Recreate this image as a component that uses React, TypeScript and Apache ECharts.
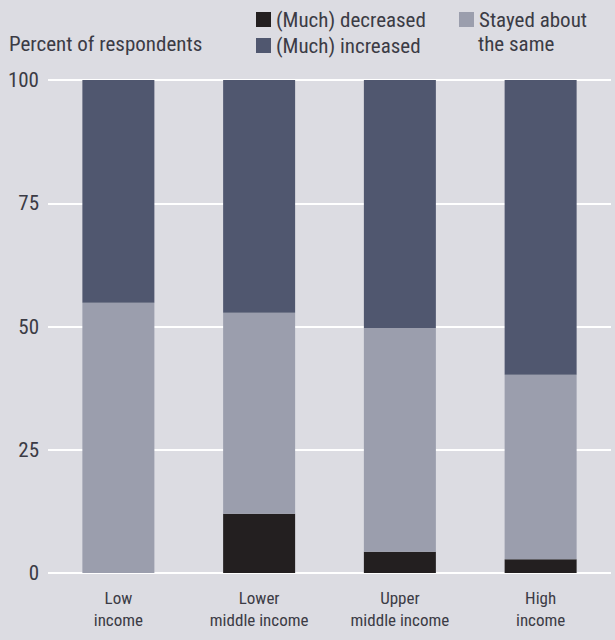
import React, { useEffect, useRef } from "react";
import * as echarts from "echarts";

const categories = ["Low\nincome", "Lower\nmiddle income", "Upper\nmiddle income", "High\nincome"];
const decreased = [0, 12, 4.3, 2.8];
const stayed = [54.8, 40.8, 45.4, 37.4];
const increased = [45.2, 47.2, 50.3, 59.8];
const yTicks = [0, 25, 50, 75, 100];

const FONT = "'Liberation Sans Narrow', 'Arial Narrow', 'Roboto Condensed', Roboto, sans-serif";
const TXT = "#3b3b45";

export default function App() {
  const ref = useRef<HTMLDivElement>(null);
  useEffect(() => {
    document.body.style.margin = "0";
    const chart = echarts.init(ref.current!, null, { renderer: "svg" });
    chart.setOption({
      animation: false,
      backgroundColor: "#dcdce2",
      textStyle: { fontFamily: FONT },
      grid: { left: 48, right: 4, top: 80, bottom: 67 },
      legend: [
        {
          data: ["(Much) decreased", "(Much) increased"],
          orient: "vertical",
          left: 251,
          top: 4,
          itemWidth: 15,
          itemHeight: 15,
          itemGap: 5,
          icon: "rect",
          textStyle: { fontSize: 21, color: TXT, fontFamily: FONT },
        },
        {
          data: ["Stayed about the same"],
          formatter: () => "Stayed about",
          orient: "vertical",
          left: 454,
          top: 4,
          itemWidth: 15,
          itemHeight: 15,
          icon: "rect",
          textStyle: { fontSize: 21, color: TXT, fontFamily: FONT },
        },
      ],
      graphic: [
        {
          type: "text",
          left: 478,
          top: 33,
          style: { text: "the same", fontSize: 21, fill: TXT, fontFamily: FONT },
        },
        {
          type: "text",
          left: 9,
          top: 33,
          style: { text: "Percent of respondents", fontSize: 21, fill: TXT, fontFamily: FONT },
        },
      ],
      xAxis: {
        type: "category",
        data: categories,
        axisLine: { show: false },
        axisTick: { show: false },
        axisLabel: { fontSize: 17, color: TXT, margin: 14, lineHeight: 22, fontFamily: FONT },
      },
      yAxis: {
        type: "value",
        min: 0,
        max: 100,
        interval: 25,
        axisLine: { show: false },
        axisTick: { show: false },
        axisLabel: {
          fontSize: 21,
          color: TXT,
          margin: 9,
          fontFamily: FONT,
          formatter: (v: number) => (yTicks.includes(v) ? String(v) : ""),
        },
        splitLine: { lineStyle: { color: "#ffffff", width: 2 } },
      },
      series: [
        { name: "(Much) decreased", type: "bar", stack: "s", data: decreased, barWidth: 72, itemStyle: { color: "#231f20" } },
        { name: "Stayed about the same", type: "bar", stack: "s", data: stayed, barWidth: 72, itemStyle: { color: "#9b9ead" } },
        { name: "(Much) increased", type: "bar", stack: "s", data: increased, barWidth: 72, itemStyle: { color: "#50576f" } },
      ],
    });
    return () => chart.dispose();
  }, []);
  return <div ref={ref} style={{ width: 615, height: 640 }} />;
}
